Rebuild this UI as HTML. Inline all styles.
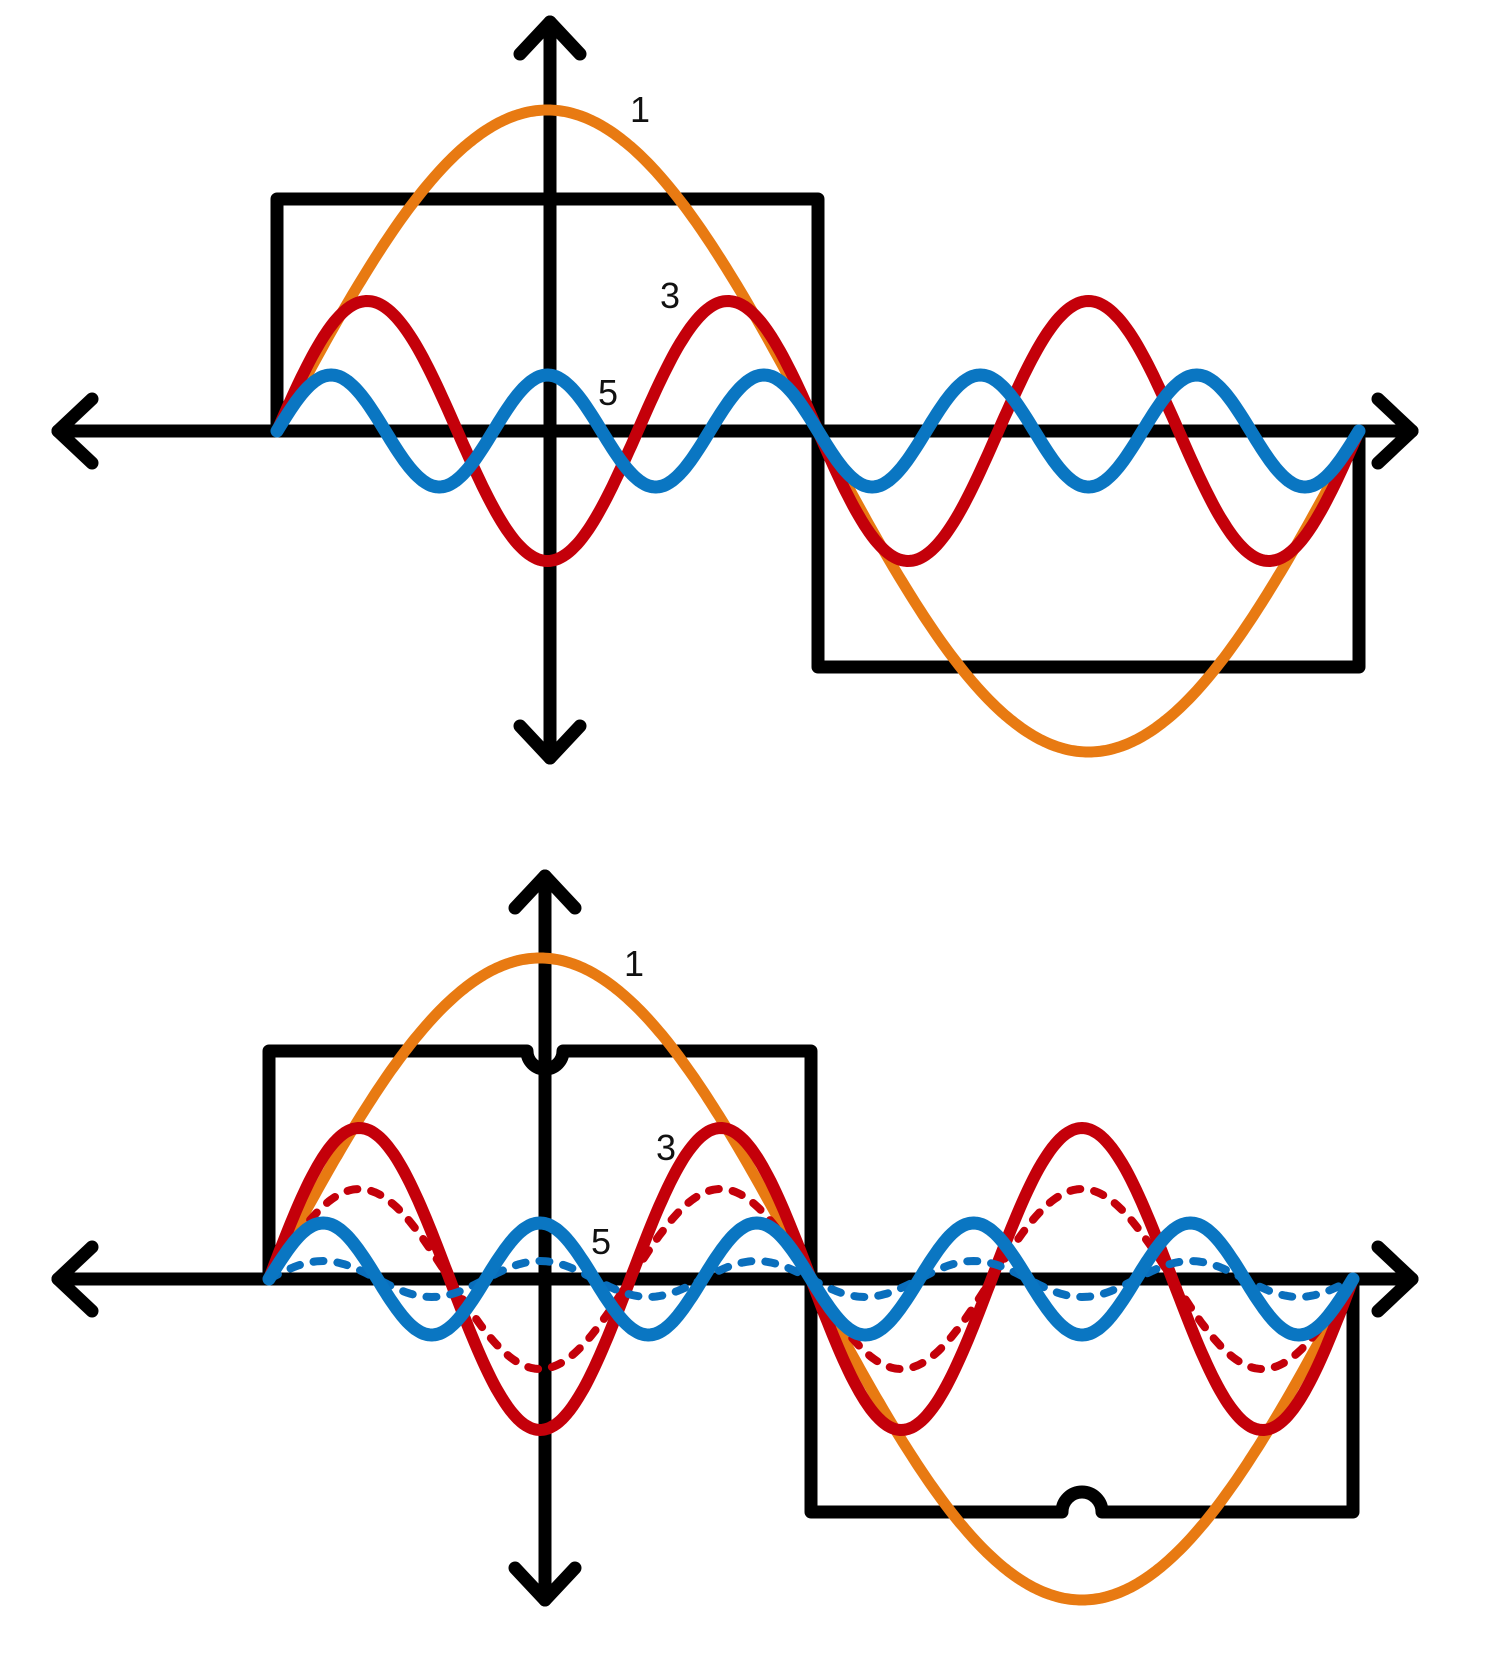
<!DOCTYPE html>
<html><head><style>html,body{margin:0;padding:0;background:#fff}svg{display:block}text{font-family:"Liberation Sans",sans-serif;font-size:36px;fill:#111}</style></head>
<body>
<svg id="s" width="1500" height="1660" viewBox="0 0 1500 1660" xmlns="http://www.w3.org/2000/svg">
<g id="top"></g><g id="bot"></g>
<text x="630" y="122">1</text>
<text x="660" y="308">3</text>
<text x="598" y="405">5</text>
<text x="624" y="976">1</text>
<text x="656" y="1160">3</text>
<text x="591" y="1254">5</text>
</svg>
<script>
var NS="http://www.w3.org/2000/svg";
function P(g,d,stroke,w,dash){var p=document.createElementNS(NS,"path");p.setAttribute("d",d);p.setAttribute("stroke",stroke);p.setAttribute("stroke-width",w);p.setAttribute("fill","none");p.setAttribute("stroke-linecap","round");p.setAttribute("stroke-linejoin","round");if(dash)p.setAttribute("stroke-dasharray",dash);document.getElementById(g).appendChild(p);}
function sine(x0,L,cy,amp,k){var d="";for(var i=0;i<=400;i++){var x=x0+2*L*i/400;var y=cy-amp*Math.sin(k*Math.PI*(x-x0)/L);d+=(i?"L":"M")+x.toFixed(1)+" "+y.toFixed(1);}return d;}
function panel(g,ax,cy,yTop,yBot,x0,L,sqTop,sqBot,notch,red2,blue2){
  var x1=x0+L,x2=x0+2*L;
  var d;
  if(notch){
    d="M"+x0+" "+cy+"L"+x0+" "+sqTop+"L"+(ax-18)+" "+sqTop+"A18 18 0 0 0 "+(ax+18)+" "+sqTop+"L"+x1+" "+sqTop+"L"+x1+" "+sqBot+"L"+(1082-20)+" "+sqBot+"A20 20 0 0 1 "+(1082+20)+" "+sqBot+"L"+x2+" "+sqBot+"L"+x2+" "+cy;
  } else {
    d="M"+x0+" "+cy+"L"+x0+" "+sqTop+"L"+x1+" "+sqTop+"L"+x1+" "+sqBot+"L"+x2+" "+sqBot+"L"+x2+" "+cy;
  }
  P(g,d,"#000",13);
  P(g,"M58 "+cy+"L1412 "+cy,"#000",13);
  P(g,"M"+ax+" "+yTop+"L"+ax+" "+yBot,"#000",13);
  P(g,"M92 "+(cy-32)+"L58 "+cy+"L92 "+(cy+32),"#000",13);
  P(g,"M1378 "+(cy-32)+"L1412 "+cy+"L1378 "+(cy+32),"#000",13);
  P(g,"M"+(ax-30)+" "+(yTop+32)+"L"+ax+" "+yTop+"L"+(ax+30)+" "+(yTop+32),"#000",13);
  P(g,"M"+(ax-30)+" "+(yBot-32)+"L"+ax+" "+yBot+"L"+(ax+30)+" "+(yBot-32),"#000",13);
  P(g,sine(x0,L,cy,321,1),"#e87a12",11);
  if(red2)P(g,sine(x0,L,cy,red2,3),"#c4000a",8,"10 14");
  P(g,sine(x0,L,cy,notch?151:130,3),"#c4000a",12);
  if(blue2)P(g,sine(x0,L,cy,blue2,5),"#0a6fbd",8,"10 14");
  P(g,sine(x0,L,cy,56,5),"#0a76c2",13);
}
panel("top",550,431,22,758,277,541,199,667,false,0,0);
panel("bot",545,1279,876,1600,269,542,1051,1512,true,90,18);
</script>
</body></html>
